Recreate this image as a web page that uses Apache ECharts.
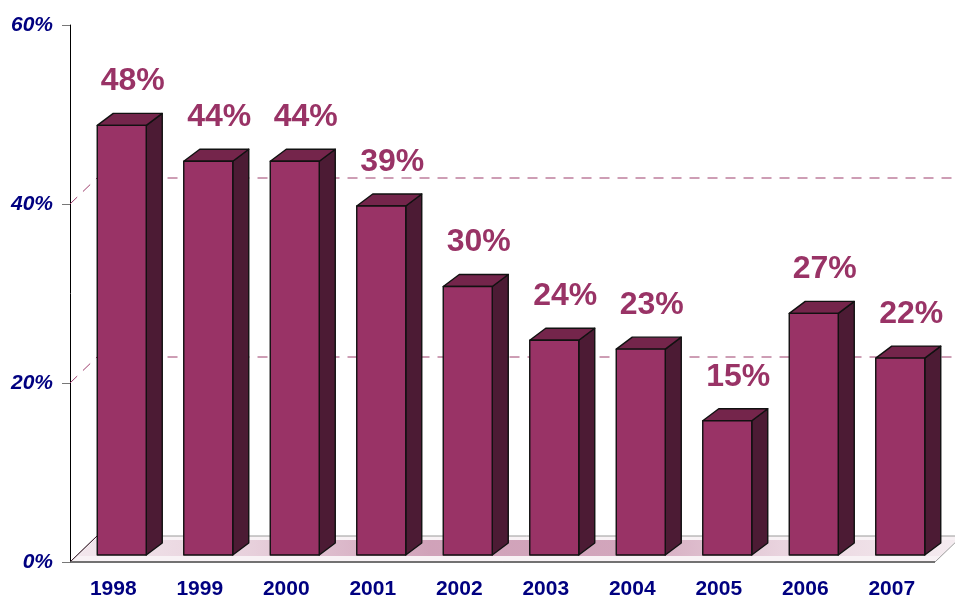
<!DOCTYPE html>
<html>
<head>
<meta charset="utf-8">
<script src="https://cdn.jsdelivr.net/npm/echarts@6/dist/echarts.min.js"></script>
<style>
  html, body { margin: 0; padding: 0; background: #fff; }
  #chart { width: 955px; height: 600px; }
</style>
</head>
<body>
<div id="chart"></div>
<script>
// data
const years = ['1998', '1999', '2000', '2001', '2002', '2003', '2004', '2005', '2006', '2007'];
const shares = [48, 44, 44, 39, 30, 24, 23, 15, 27, 22];
const gridLevels = [20, 40];

// 3d look
const wallDx = 27, wallDy = -26;   // back wall offset
const barDx = 7, barDy = -7;       // bar front plane offset
const depthDx = 16, depthDy = -12; // bar depth
const barW = 49;

const chart = echarts.init(document.getElementById('chart'));

function floorItem(params, api) {
  const cs = params.coordSys;
  const x0 = cs.x, x1 = cs.x + cs.width, y0 = cs.y + cs.height;
  const kids = [{
    type: 'polygon',
    shape: { points: [[x0, y0], [x1, y0], [x1 + wallDx, y0 + wallDy], [x0 + wallDx, y0 + wallDy]] },
    style: { fill: '#f8f2f5', stroke: '#9a9a9a', lineWidth: 1 }
  }, {
    // pink reflection band under the bars
    type: 'polygon',
    shape: { points: [[x0 + 8, y0 - 6], [x1 + 6, y0 - 6], [x1 + wallDx - 6, y0 + wallDy + 4], [x0 + 24, y0 + wallDy + 4]] },
    style: {
      fill: new echarts.graphic.LinearGradient(0, 0, 1, 0, [
        { offset: 0, color: 'rgba(153,51,102,0.06)' },
        { offset: 0.2, color: 'rgba(153,51,102,0.18)' },
        { offset: 0.4, color: 'rgba(153,51,102,0.42)' },
        { offset: 0.62, color: 'rgba(153,51,102,0.4)' },
        { offset: 0.8, color: 'rgba(153,51,102,0.16)' },
        { offset: 1, color: 'rgba(153,51,102,0.03)' }
      ])
    }
  }, {
    type: 'line',
    shape: { x1: x0, y1: y0, x2: x0 + wallDx, y2: y0 + wallDy },
    style: { stroke: '#3a1a2a', lineWidth: 1 }
  }, {
    type: 'line',
    shape: { x1: x0, y1: y0, x2: x1, y2: y0 },
    style: { stroke: '#555', lineWidth: 1.5 }
  }];
  return { type: 'group', children: kids };
}

function gridItem(params, api) {
  const cs = params.coordSys;
  const p = api.coord([0, api.value(0)]);
  const x0 = cs.x, y = p[1];
  return {
    type: 'polyline',
    shape: { points: [[x0, y], [x0 + wallDx, y + wallDy], [960, y + wallDy]] },
    style: { stroke: '#9c3d6b', lineWidth: 1, lineDash: [10, 8], fill: null }
  };
}

function barItem(params, api) {
  const i = api.value(0), v = api.value(1);
  const base = api.coord([i, 0]);
  const top = api.coord([i, v]);
  const l = base[0] - 16, r = l + barW;
  const b = base[1] + barDy, t = top[1] + barDy;
  const edge = { stroke: '#111', lineWidth: 1.4, lineJoin: 'round' };
  return {
    type: 'group',
    children: [{
      type: 'polygon',
      shape: { points: [[r, b], [r + depthDx, b + depthDy], [r + depthDx, t + depthDy], [r, t]] },
      style: Object.assign({ fill: '#4c1b34' }, edge)
    }, {
      type: 'polygon',
      shape: { points: [[l, t], [r, t], [r + depthDx, t + depthDy], [l + depthDx, t + depthDy]] },
      style: Object.assign({ fill: '#74254b' }, edge)
    }, {
      type: 'rect',
      shape: { x: l, y: t, width: barW, height: b - t },
      style: Object.assign({ fill: '#993366' }, edge)
    }, {
      type: 'text',
      x: (l + r) / 2 + 11, y: t - 44,
      style: {
        text: shares[i] + '%', fill: '#993366',
        font: 'bold 32px Arial, "Liberation Sans", sans-serif',
        align: 'center', verticalAlign: 'middle'
      }
    }]
  };
}

const option = {
  animation: false,
  grid: { left: 70, right: 20, top: 25, bottom: 38 },
  xAxis: {
    type: 'category',
    data: years,
    axisLine: { show: false },
    axisTick: { length: 9, lineStyle: { color: '#777' } },
    axisLabel: {
      color: '#000080', fontWeight: 'bold', fontSize: 21,
      fontFamily: 'Arial, "Liberation Sans", sans-serif', margin: 17
    }
  },
  yAxis: {
    type: 'value',
    min: 0, max: 60, interval: 20,
    axisLine: { show: true, lineStyle: { color: '#000', width: 1 } },
    axisTick: { show: true, length: 8, lineStyle: { color: '#777' } },
    splitLine: { show: false },
    axisLabel: {
      formatter: '{value}%', color: '#000080', fontWeight: 'bold', fontStyle: 'italic',
      fontSize: 21, fontFamily: 'Arial, "Liberation Sans", sans-serif', margin: 17
    }
  },
  series: [{
    type: 'custom', z: 1, clip: false,
    renderItem: floorItem,
    data: [[0]]
  }, {
    type: 'custom', z: 2, clip: false,
    renderItem: gridItem,
    data: gridLevels.map(g => [g])
  }, {
    type: 'custom', z: 3, clip: false,
    renderItem: barItem,
    data: shares.map((v, i) => [i, v])
  }]
};
chart.setOption(option);
</script>
</body>
</html>
